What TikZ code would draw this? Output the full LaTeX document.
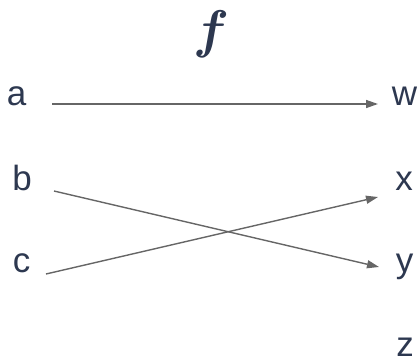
\documentclass[tikz,border=0pt]{standalone}
\usepackage{fontspec}
\usepackage{bm}
\setmainfont{Liberation Sans}
\usetikzlibrary{arrows.meta}
\definecolor{ink}{HTML}{2D3850}
\definecolor{edge}{HTML}{666666}
\tikzset{
  lbl/.style={anchor=base, inner sep=0pt, text=ink, font=\fontsize{35}{40}\selectfont},
  conn/.style={draw=edge, line width=1.4pt, -{Triangle[length=12pt,width=8pt]}}
}
\begin{document}
\begin{tikzpicture}[x=1pt,y=-1pt]
\useasboundingbox (0,0) rectangle (417,359);
\node[anchor=base, inner sep=0pt, text=ink, scale=5.3] (f) at (211,47) {$\bm{f}$};
\node[lbl] (a) at (16.5,105) {a};
\node[lbl] (b) at (22,190) {b};
\node[lbl] (c) at (21.5,272) {c};
\node[lbl] (w) at (404.5,105) {w};
\node[lbl] (x) at (404,190) {x};
\node[lbl] (y) at (404.5,272) {y};
\node[lbl] (z) at (405,356) {z};
\coordinate (aout) at (52,104);
\coordinate (win) at (378,104);
\coordinate (bout) at (54,191);
\coordinate (yin) at (379,267);
\coordinate (cout) at (46,274);
\coordinate (xin) at (378,197);
\draw[conn] (aout) -- (win);
\draw[conn] (bout) -- (yin);
\draw[conn] (cout) -- (xin);
\end{tikzpicture}
\end{document}
